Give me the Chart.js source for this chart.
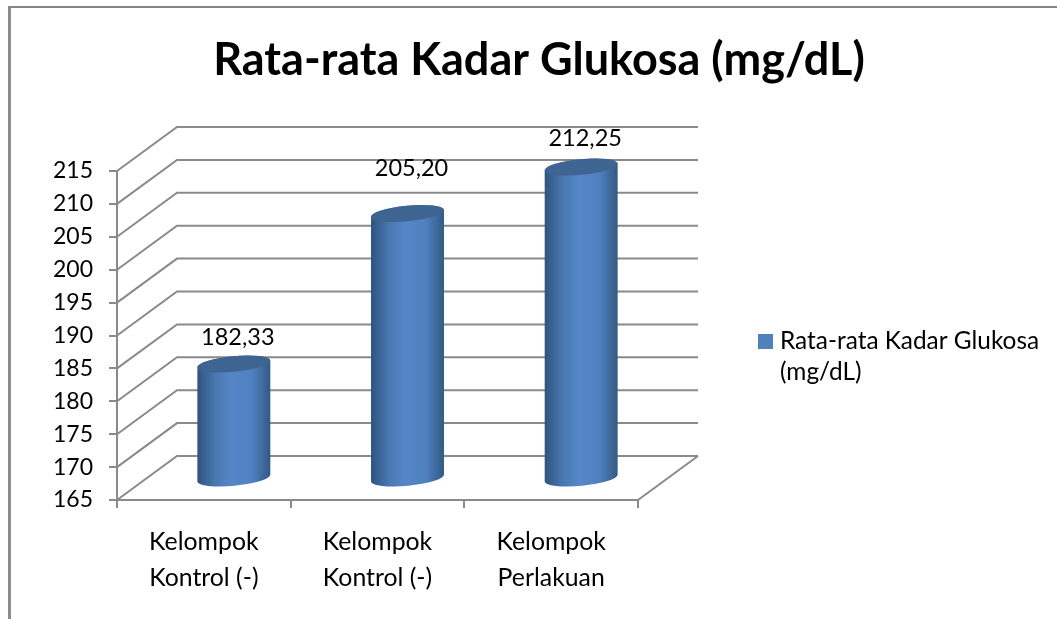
<!DOCTYPE html>
<html>
<head>
<meta charset="utf-8">
<style>
  html, body { margin: 0; padding: 0; background: #fff; }
  #wrap { position: relative; width: 1057px; height: 619px; overflow: hidden; }
  #frame { position: absolute; left: 8px; top: 6px; width: 1100px; height: 700px; border-top: 2px solid #868686; border-left: 3px solid #8c8c8c; box-sizing: border-box; }
  canvas { position: absolute; left: 0; top: 0; }
</style>
</head>
<body>
<div id="wrap">
  <div id="frame"></div>
  <canvas id="myChart" width="1057" height="619"></canvas>
</div>
<script src="https://cdn.jsdelivr.net/npm/chart.js@4"></script>
<script>
const chartTitle = 'Rata-rata Kadar Glukosa (mg/dL)';
const legendLines = ['Rata-rata Kadar Glukosa', '(mg/dL)'];
const categories = [['Kelompok', 'Kontrol (-)'], ['Kelompok', 'Kontrol (-)'], ['Kelompok', 'Perlakuan']];
const glucose = [182.33, 205.20, 212.25];

const FONT = 'Lato, Carlito, sans-serif';
const GRID = '#8a8a8a';
const DEPTH_X = 60;  // how far the back wall is pushed right
const DEPTH_Y = 44;  // and up
const TILT = -5.5 * Math.PI / 180;
const labelLift = [27, 45, 29]; // data labels were placed by hand in the original

// back wall, side wall and floor lines
const walls = {
  id: 'walls',
  beforeDatasetsDraw(chart) {
    const c = chart.ctx, y = chart.scales.y, a = chart.chartArea;
    c.save();
    c.strokeStyle = GRID;
    c.lineWidth = 2;
    y.ticks.forEach(t => {
      const py = y.getPixelForValue(t.value);
      c.beginPath();
      c.moveTo(a.left, py);
      c.lineTo(a.left + DEPTH_X, py - DEPTH_Y);
      c.lineTo(a.right + DEPTH_X, py - DEPTH_Y);
      c.stroke();
    });
    const floor = y.getPixelForValue(y.min);
    c.beginPath();
    c.moveTo(a.right, floor);
    c.lineTo(a.right + DEPTH_X, floor - DEPTH_Y);
    c.stroke();
    c.restore();
  }
};

// each bar is redrawn as a cylinder half way back on the floor
const cylinders = {
  id: 'cylinders',
  afterDatasetsDraw(chart) {
    const c = chart.ctx, y = chart.scales.y;
    chart.getDatasetMeta(0).data.forEach((bar, i) => {
      const cx = bar.x + DEPTH_X / 2;
      const top = bar.y - DEPTH_Y / 2;
      const bottom = y.getPixelForValue(y.min) - DEPTH_Y / 2;
      const half = bar.width / 2;
      const rx = half / Math.cos(TILT);
      const ry = 7.8;
      const g = c.createLinearGradient(cx - half, 0, cx + half, 0);
      g.addColorStop(0, '#2f5380');
      g.addColorStop(0.25, '#4a78b0');
      g.addColorStop(0.47, '#5587c9');
      g.addColorStop(0.75, '#4f80bf');
      g.addColorStop(1, '#335a85');
      c.save();
      c.fillStyle = g;
      c.beginPath();
      c.ellipse(cx, bottom, rx, ry, TILT, 0, Math.PI);
      c.ellipse(cx, top, rx, ry, TILT, Math.PI, 2 * Math.PI);
      c.closePath();
      c.fill();
      c.fillStyle = '#3e6592';
      c.beginPath();
      c.ellipse(cx, top, rx, ry, TILT, 0, 2 * Math.PI);
      c.fill();
      c.fillStyle = '#000';
      c.font = '23.5px ' + FONT;
      c.textAlign = 'center';
      c.textBaseline = 'middle';
      c.fillText(glucose[i].toFixed(2).replace('.', ','), cx + 4, top - labelLift[i]);
      c.restore();
    });
  }
};

// legend sits in its own layout box so the title stays centred on the whole picture
const sideLegend = {
  id: 'sideLegend',
  beforeInit(chart) {
    Chart.layouts.addBox(chart, {
      position: 'right',
      weight: 0,
      fullSize: false,
      options: {},
      isHorizontal() { return false; },
      update() { this.width = 419; this.height = 0; },
      draw() {
        const c = chart.ctx;
        c.save();
        c.fillStyle = '#4f81bd';
        c.fillRect(this.left + 120, 334, 15, 15);
        c.fillStyle = '#000';
        c.font = '24.4px ' + FONT;
        c.textBaseline = 'middle';
        legendLines.forEach((line, i) => c.fillText(line, this.left + 142, 341 + i * 31));
        c.restore();
      }
    });
  }
};

new Chart(document.getElementById('myChart'), {
  type: 'bar',
  data: {
    labels: categories,
    datasets: [{
      label: legendLines.join(' '),
      data: glucose,
      backgroundColor: 'rgba(0,0,0,0)',
      barPercentage: 1,
      categoryPercentage: 0.42
    }]
  },
  options: {
    responsive: false,
    animation: false,
    layout: { padding: { left: 21 } },
    plugins: {
      legend: { display: false },
      tooltip: { enabled: false },
      title: {
        display: true,
        text: chartTitle,
        color: '#000',
        font: { family: FONT, size: 45, weight: 'bold', lineHeight: 1.2 },
        padding: { top: 33, bottom: 84 }
      }
    },
    scales: {
      x: {
        afterFit(s) { s.height = 119; },
        grid: { drawOnChartArea: false, color: GRID, lineWidth: 2, tickLength: 8 },
        border: { color: GRID, width: 2 },
        ticks: { color: '#000', font: { family: FONT, size: 24.8, lineHeight: 1.45 }, maxRotation: 0, padding: 16 }
      },
      y: {
        min: 165,
        max: 215,
        afterFit(s) { s.width = 96; },
        grid: { drawOnChartArea: false, color: GRID, lineWidth: 2, tickLength: 8 },
        border: { color: GRID, width: 2 },
        ticks: { stepSize: 5, color: '#000', font: { family: FONT, size: 23 }, padding: 16 }
      }
    }
  },
  plugins: [walls, cylinders, sideLegend]
});
</script>
</body>
</html>
